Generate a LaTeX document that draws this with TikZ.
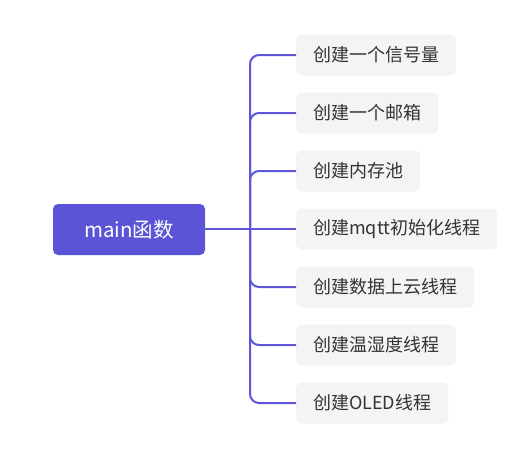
\documentclass[tikz,border=0pt]{standalone}
\usepackage{fontspec}
\setmainfont{Noto Sans CJK SC}
\definecolor{mainblue}{HTML}{5B54D6}
\definecolor{linkblue}{HTML}{5D56DA}
\definecolor{boxgray}{HTML}{F4F4F4}
\definecolor{txtgray}{HTML}{333333}
\begin{document}
\begin{tikzpicture}[x=1pt,y=-1pt,
  rootbox/.style={fill=mainblue, rounded corners=5pt, text=white, minimum width=152pt, minimum height=51pt, inner sep=0pt, font=\fontsize{20.5}{22}\selectfont},
  childbox/.style={fill=boxgray, rounded corners=5pt, text=txtgray, anchor=west, minimum height=41pt, inner xsep=17pt, inner ysep=0pt, font=\fontsize{18}{20}\selectfont},
  link/.style={draw=linkblue, line width=2pt}]
\useasboundingbox (0,0) rectangle (532,451);
\node[rootbox] (root) at (129,229.5) {main函数};
\coordinate (junction) at (250,229);
\node[childbox] (c1) at (296,55) {创建一个信号量};
\node[childbox] (c2) at (296,113) {创建一个邮箱};
\node[childbox] (c3) at (296,171) {创建内存池};
\node[childbox] (c4) at (296,229) {创建mqtt初始化线程};
\node[childbox] (c5) at (296,287) {创建数据上云线程};
\node[childbox] (c6) at (296,345) {创建温湿度线程};
\node[childbox] (c7) at (296,403) {创建OLED线程};
\draw[link] (root.east |- junction) -- (junction);
\draw[link] (junction) -- (c4.west);
\foreach \c in {c1,c2,c3,c5,c6,c7}{
  \draw[link, rounded corners=9pt] (junction) |- (\c.west);
}
\end{tikzpicture}
\end{document}
